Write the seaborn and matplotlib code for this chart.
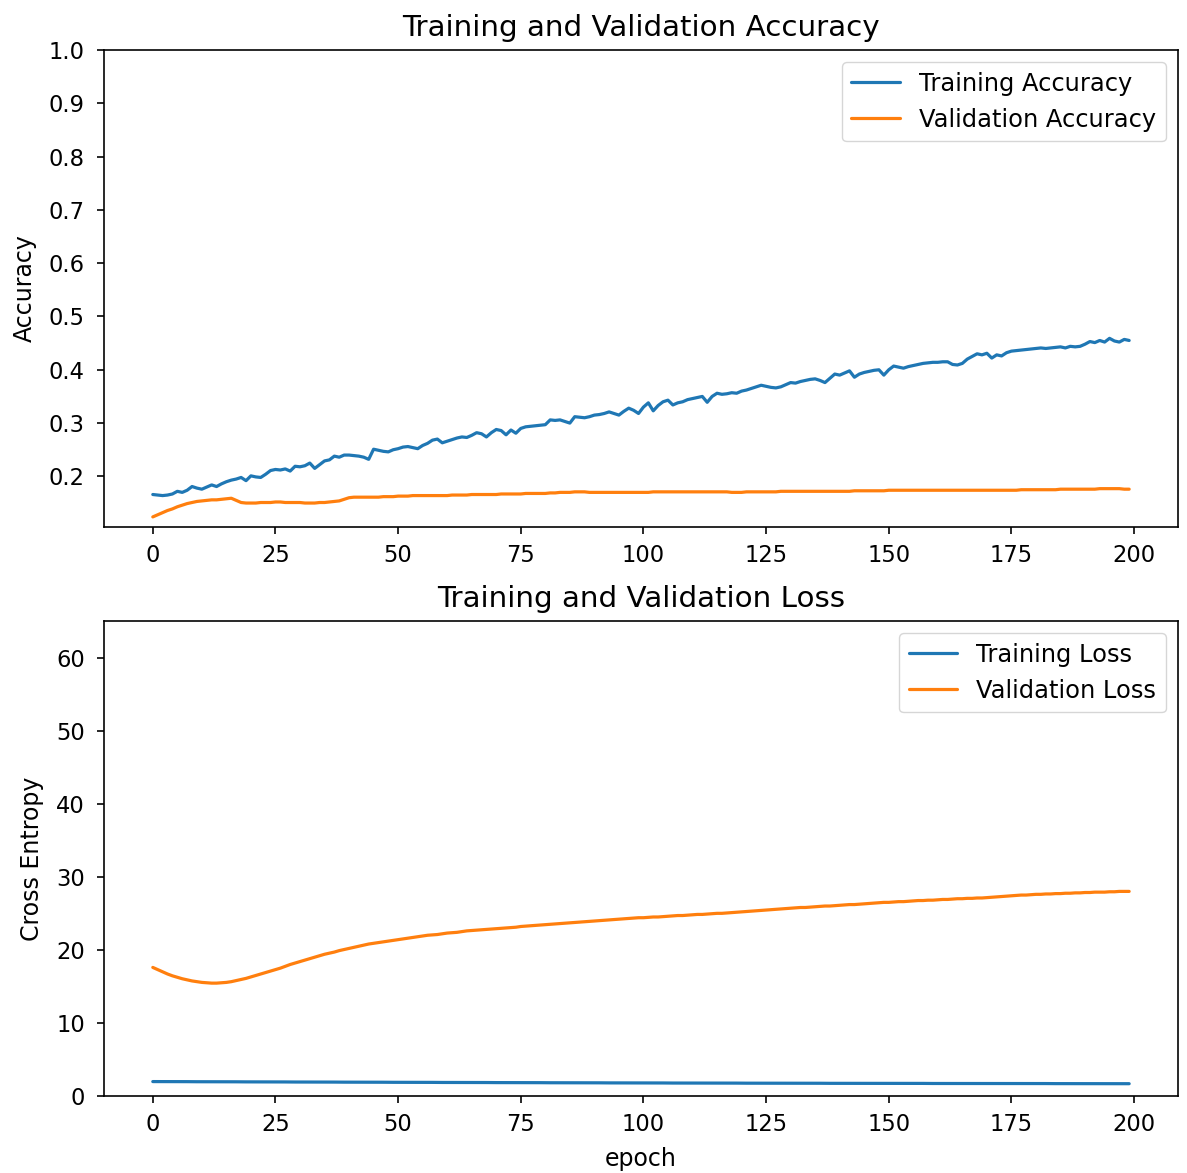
import numpy as np
import pandas as pd
import matplotlib
matplotlib.use("Agg")
import matplotlib.pyplot as plt
import seaborn as sns

# Per-epoch training history
train_acc = [
    0.166, 0.165, 0.164, 0.165, 0.167, 0.172, 0.170, 0.174, 0.181, 0.178,
    0.176, 0.180, 0.184, 0.181, 0.186, 0.190, 0.193, 0.195, 0.198, 0.192,
    0.201, 0.199, 0.198, 0.204, 0.211, 0.213, 0.212, 0.214, 0.210, 0.219,
    0.218, 0.220, 0.225, 0.215, 0.222, 0.229, 0.231, 0.238, 0.236, 0.240,
    0.240, 0.239, 0.238, 0.236, 0.232, 0.251, 0.249, 0.247, 0.246, 0.250,
    0.252, 0.255, 0.256, 0.254, 0.252, 0.258, 0.262, 0.268, 0.270, 0.263,
    0.266, 0.269, 0.272, 0.274, 0.273, 0.277, 0.282, 0.280, 0.274, 0.282,
    0.288, 0.286, 0.278, 0.287, 0.281, 0.290, 0.293, 0.294, 0.295, 0.296,
    0.297, 0.306, 0.305, 0.306, 0.303, 0.300, 0.312, 0.311, 0.310, 0.312,
    0.315, 0.316, 0.318, 0.321, 0.318, 0.315, 0.322, 0.328, 0.324, 0.318,
    0.330, 0.338, 0.323, 0.333, 0.340, 0.343, 0.334, 0.338, 0.340, 0.344,
    0.346, 0.348, 0.350, 0.339, 0.350, 0.356, 0.354, 0.355, 0.357, 0.356,
    0.360, 0.362, 0.365, 0.368, 0.371, 0.369, 0.367, 0.366, 0.368, 0.372,
    0.376, 0.375, 0.378, 0.380, 0.382, 0.383, 0.380, 0.376, 0.384, 0.392,
    0.390, 0.394, 0.398, 0.386, 0.392, 0.395, 0.397, 0.399, 0.400, 0.390,
    0.400, 0.407, 0.405, 0.403, 0.406, 0.408, 0.410, 0.412, 0.413, 0.414,
    0.414, 0.415, 0.415, 0.410, 0.409, 0.412, 0.420, 0.425, 0.430, 0.428,
    0.431, 0.422, 0.428, 0.426, 0.432, 0.435, 0.436, 0.437, 0.438, 0.439,
    0.440, 0.441, 0.440, 0.441, 0.442, 0.443, 0.441, 0.444, 0.443, 0.444,
    0.448, 0.453, 0.451, 0.455, 0.452, 0.459, 0.454, 0.452, 0.457, 0.455,
]

val_acc = [
    0.124, 0.128, 0.132, 0.136, 0.139, 0.143, 0.146, 0.149, 0.151, 0.153,
    0.154, 0.155, 0.156, 0.156, 0.157, 0.158, 0.159, 0.155, 0.151, 0.150,
    0.150, 0.150, 0.151, 0.151, 0.151, 0.152, 0.152, 0.151, 0.151, 0.151,
    0.151, 0.150, 0.150, 0.150, 0.151, 0.151, 0.152, 0.153, 0.154, 0.157,
    0.160, 0.161, 0.161, 0.161, 0.161, 0.161, 0.161, 0.162, 0.162, 0.162,
    0.163, 0.163, 0.163, 0.164, 0.164, 0.164, 0.164, 0.164, 0.164, 0.164,
    0.164, 0.165, 0.165, 0.165, 0.165, 0.166, 0.166, 0.166, 0.166, 0.166,
    0.166, 0.167, 0.167, 0.167, 0.167, 0.167, 0.168, 0.168, 0.168, 0.168,
    0.168, 0.169, 0.169, 0.170, 0.170, 0.170, 0.171, 0.171, 0.171, 0.170,
    0.170, 0.170, 0.170, 0.170, 0.170, 0.170, 0.170, 0.170, 0.170, 0.170,
    0.170, 0.170, 0.171, 0.171, 0.171, 0.171, 0.171, 0.171, 0.171, 0.171,
    0.171, 0.171, 0.171, 0.171, 0.171, 0.171, 0.171, 0.171, 0.170, 0.170,
    0.170, 0.171, 0.171, 0.171, 0.171, 0.171, 0.171, 0.171, 0.172, 0.172,
    0.172, 0.172, 0.172, 0.172, 0.172, 0.172, 0.172, 0.172, 0.172, 0.172,
    0.172, 0.172, 0.172, 0.173, 0.173, 0.173, 0.173, 0.173, 0.173, 0.173,
    0.174, 0.174, 0.174, 0.174, 0.174, 0.174, 0.174, 0.174, 0.174, 0.174,
    0.174, 0.174, 0.174, 0.174, 0.174, 0.174, 0.174, 0.174, 0.174, 0.174,
    0.174, 0.174, 0.174, 0.174, 0.174, 0.174, 0.174, 0.175, 0.175, 0.175,
    0.175, 0.175, 0.175, 0.175, 0.175, 0.176, 0.176, 0.176, 0.176, 0.176,
    0.176, 0.176, 0.176, 0.177, 0.177, 0.177, 0.177, 0.177, 0.176, 0.176,
]

train_loss = [
    1.98, 1.98, 1.98, 1.97, 1.97, 1.97, 1.97, 1.97, 1.96, 1.96,
    1.96, 1.96, 1.96, 1.95, 1.95, 1.95, 1.95, 1.95, 1.94, 1.94,
    1.94, 1.94, 1.94, 1.93, 1.93, 1.93, 1.93, 1.93, 1.92, 1.92,
    1.92, 1.92, 1.92, 1.91, 1.91, 1.91, 1.91, 1.91, 1.90, 1.90,
    1.90, 1.90, 1.90, 1.89, 1.89, 1.89, 1.89, 1.89, 1.88, 1.88,
    1.88, 1.88, 1.88, 1.87, 1.87, 1.87, 1.87, 1.87, 1.86, 1.86,
    1.86, 1.86, 1.86, 1.85, 1.85, 1.85, 1.85, 1.85, 1.85, 1.84,
    1.84, 1.84, 1.84, 1.84, 1.83, 1.83, 1.83, 1.83, 1.83, 1.83,
    1.82, 1.82, 1.82, 1.82, 1.82, 1.82, 1.81, 1.81, 1.81, 1.81,
    1.81, 1.81, 1.80, 1.80, 1.80, 1.80, 1.80, 1.80, 1.79, 1.79,
    1.79, 1.79, 1.79, 1.79, 1.79, 1.78, 1.78, 1.78, 1.78, 1.78,
    1.78, 1.78, 1.77, 1.77, 1.77, 1.77, 1.77, 1.77, 1.77, 1.77,
    1.76, 1.76, 1.76, 1.76, 1.76, 1.76, 1.76, 1.76, 1.75, 1.75,
    1.75, 1.75, 1.75, 1.75, 1.75, 1.75, 1.75, 1.74, 1.74, 1.74,
    1.74, 1.74, 1.74, 1.74, 1.74, 1.74, 1.74, 1.73, 1.73, 1.73,
    1.73, 1.73, 1.73, 1.73, 1.73, 1.73, 1.73, 1.73, 1.72, 1.72,
    1.72, 1.72, 1.72, 1.72, 1.72, 1.72, 1.72, 1.72, 1.72, 1.72,
    1.71, 1.71, 1.71, 1.71, 1.71, 1.71, 1.71, 1.71, 1.71, 1.71,
    1.71, 1.71, 1.71, 1.70, 1.70, 1.70, 1.70, 1.70, 1.70, 1.70,
    1.70, 1.70, 1.70, 1.70, 1.70, 1.70, 1.70, 1.70, 1.69, 1.69,
]

val_loss = [
    17.6, 17.3, 17.0, 16.7, 16.45, 16.25, 16.05, 15.9, 15.75, 15.65,
    15.55, 15.5, 15.45, 15.45, 15.5, 15.55, 15.65, 15.8, 15.95, 16.1,
    16.3, 16.5, 16.7, 16.9, 17.1, 17.3, 17.5, 17.75, 18.0, 18.2,
    18.4, 18.6, 18.8, 19.0, 19.2, 19.4, 19.55, 19.7, 19.9, 20.05,
    20.2, 20.35, 20.5, 20.65, 20.8, 20.9, 21.0, 21.1, 21.2, 21.3,
    21.4, 21.5, 21.6, 21.7, 21.8, 21.9, 22.0, 22.05, 22.1, 22.2,
    22.3, 22.35, 22.4, 22.5, 22.6, 22.65, 22.7, 22.75, 22.8, 22.85,
    22.9, 22.95, 23.0, 23.05, 23.1, 23.2, 23.25, 23.3, 23.35, 23.4,
    23.45, 23.5, 23.55, 23.6, 23.65, 23.7, 23.75, 23.8, 23.85, 23.9,
    23.95, 24.0, 24.05, 24.1, 24.15, 24.2, 24.25, 24.3, 24.35, 24.4,
    24.4, 24.45, 24.5, 24.5, 24.55, 24.6, 24.65, 24.7, 24.7, 24.75,
    24.8, 24.85, 24.85, 24.9, 24.95, 25.0, 25.0, 25.05, 25.1, 25.15,
    25.2, 25.25, 25.3, 25.35, 25.4, 25.45, 25.5, 25.55, 25.6, 25.65,
    25.7, 25.75, 25.8, 25.8, 25.85, 25.9, 25.95, 26.0, 26.0, 26.05,
    26.1, 26.15, 26.2, 26.2, 26.25, 26.3, 26.35, 26.4, 26.45, 26.5,
    26.5, 26.55, 26.6, 26.6, 26.65, 26.7, 26.75, 26.75, 26.8, 26.8,
    26.85, 26.9, 26.9, 26.95, 27.0, 27.0, 27.05, 27.05, 27.1, 27.1,
    27.15, 27.2, 27.25, 27.3, 27.35, 27.4, 27.45, 27.5, 27.5, 27.55,
    27.6, 27.6, 27.65, 27.65, 27.7, 27.7, 27.75, 27.75, 27.8, 27.8,
    27.85, 27.85, 27.9, 27.9, 27.9, 27.95, 27.95, 28.0, 28.0, 28.0,
]

epochs = list(range(len(train_acc)))

sns.set_style("ticks", {
    "axes.edgecolor": "black",
    "xtick.color": "black",
    "ytick.color": "black",
    "text.color": "black",
    "axes.labelcolor": "black",
})
S = 1.48
LW = 2.3
plt.rcParams["font.family"] = ["DejaVu Sans"]
plt.rcParams.update({
    "font.size": 11 * S,
    "xtick.labelsize": 16.3,
    "ytick.labelsize": 16.3,
    "axes.titlesize": 21.2,
    "axes.labelsize": 17.0,
    "legend.fontsize": 17.4,
    "xtick.major.size": 3.5 * S,
    "ytick.major.size": 3.5 * S,
    "xtick.major.pad": 7.0,
    "ytick.major.pad": 8.5,
    "xtick.major.width": 0.8 * S,
    "ytick.major.width": 0.8 * S,
    "axes.linewidth": 0.8 * S,
    "lines.linewidth": LW,
})

blue = "#1f77b4"
orange = "#ff7f0e"

acc_df = pd.DataFrame({"epoch": epochs, "Training Accuracy": train_acc,
                       "Validation Accuracy": val_acc})
loss_df = pd.DataFrame({"epoch": epochs, "Training Loss": train_loss,
                        "Validation Loss": val_loss})

fig = plt.figure(figsize=(11.87, 11.73), dpi=100)
ax1 = fig.add_axes([0.0876, 0.5507, 0.9048, 0.4067])
ax2 = fig.add_axes([0.0876, 0.0656, 0.9048, 0.4050])

sns.lineplot(data=acc_df, x="epoch", y="Training Accuracy", ax=ax1,
             color=blue, label="Training Accuracy", linewidth=LW)
sns.lineplot(data=acc_df, x="epoch", y="Validation Accuracy", ax=ax1,
             color=orange, label="Validation Accuracy", linewidth=LW)
ax1.set_ylim(0.105, 1.0)
ax1.set_xlim(-9.95, 208.95)
ax1.set_xticks([0, 25, 50, 75, 100, 125, 150, 175, 200])
ax1.set_yticks([0.2, 0.3, 0.4, 0.5, 0.6, 0.7, 0.8, 0.9, 1.0])
ax1.set_xlabel("")
ax1.set_ylabel("Accuracy", labelpad=9)
ax1.set_title("Training and Validation Accuracy", pad=10)
ax1.legend(loc="upper right", frameon=True, fancybox=True, framealpha=0.8,
           edgecolor="#cccccc")

sns.lineplot(data=loss_df, x="epoch", y="Training Loss", ax=ax2,
             color=blue, label="Training Loss", linewidth=LW)
sns.lineplot(data=loss_df, x="epoch", y="Validation Loss", ax=ax2,
             color=orange, label="Validation Loss", linewidth=LW)
ax2.set_ylim(0, 65)
ax2.set_xlim(-9.95, 208.95)
ax2.set_xticks([0, 25, 50, 75, 100, 125, 150, 175, 200])
ax2.set_yticks([0, 10, 20, 30, 40, 50, 60])
ax2.set_xlabel("epoch", labelpad=8)
ax2.set_ylabel("Cross Entropy", labelpad=9)
ax2.set_title("Training and Validation Loss", pad=10)
ax2.legend(loc="upper right", frameon=True, fancybox=True, framealpha=0.8,
           edgecolor="#cccccc")

fig.savefig("out.png", dpi=100)
